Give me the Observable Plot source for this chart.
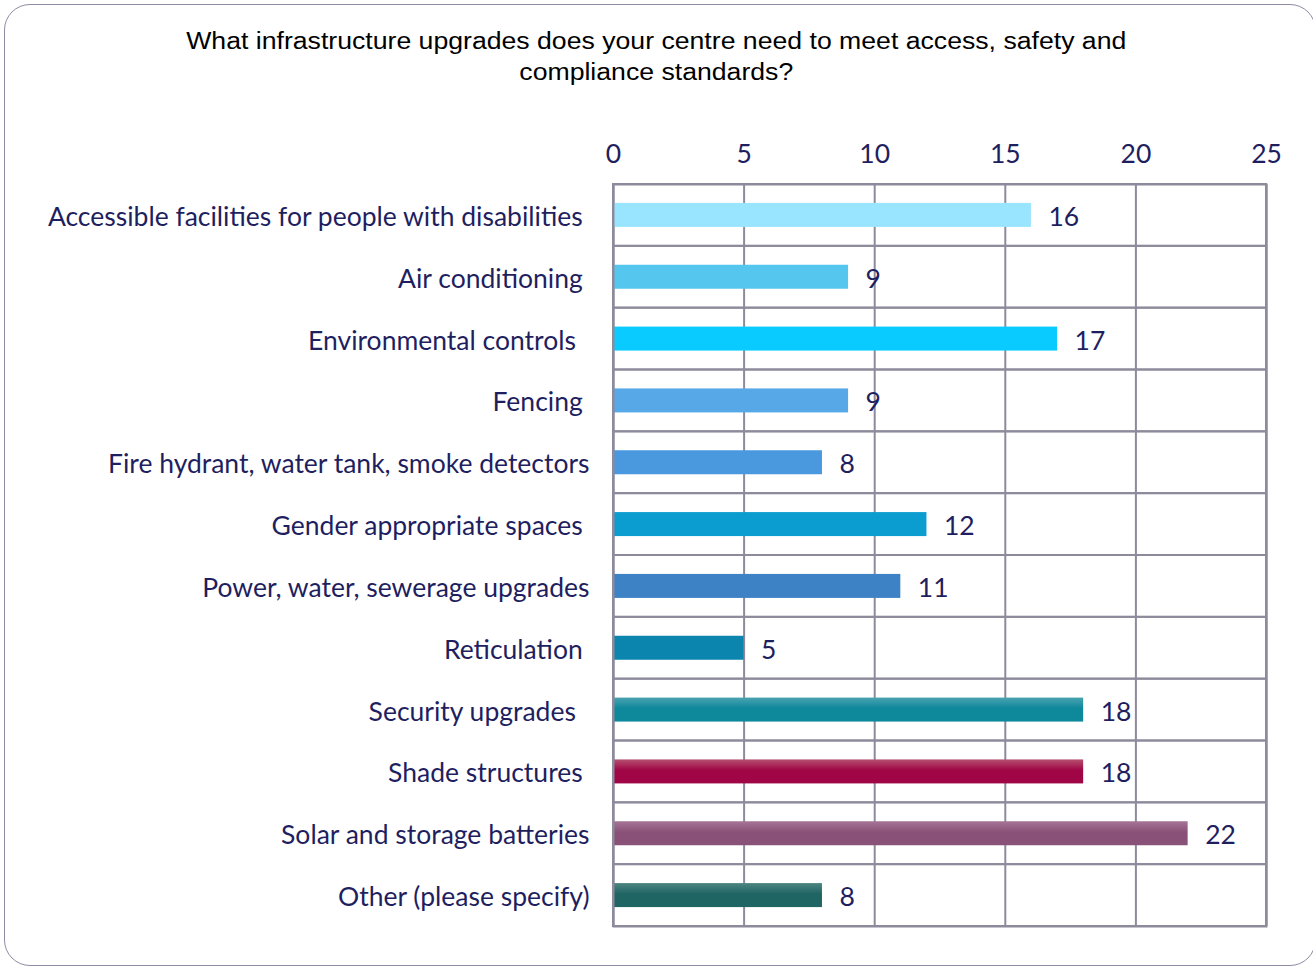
<!DOCTYPE html>
<html>
<head>
<meta charset="utf-8">
<script src="https://cdn.jsdelivr.net/npm/d3@7"></script>
<script src="https://cdn.jsdelivr.net/npm/@observablehq/plot@0.6"></script>
<style>
  html, body { margin: 0; padding: 0; background: #fff; }
  #page { position: relative; width: 1313px; height: 967px; overflow: hidden; }
  #border { position: absolute; left: 4px; top: 4px; width: 1312px; height: 962px; border: 1.6px solid #8e8ba4; border-radius: 26px; box-sizing: border-box; }
  #title { position: absolute; left: 0; top: 26px; width: 1313px; text-align: center; font-family: "Liberation Sans", Arial, sans-serif; font-size: 23px; line-height: 31px; color: #000; transform: scaleX(1.158); transform-origin: 658px 0; }
  #chart { position: absolute; left: 0; top: 100px; }
</style>
</head>
<body>
<div id="page">
  <div id="border"></div>
  <div id="title">What infrastructure upgrades does your centre need to meet access, safety and<br>compliance standards?</div>
  <div id="chart"></div>
</div>
<svg width="0" height="0" style="position:absolute">
  <defs id="grads"></defs>
</svg>
<script>
const categories = [
  "Accessible facilities for people with disabilities\u00a0",
  "Air conditioning\u00a0",
  "Environmental controls\u00a0\u00a0",
  "Fencing\u00a0",
  "Fire hydrant, water tank, smoke detectors",
  "Gender appropriate spaces\u00a0",
  "Power, water, sewerage upgrades",
  "Reticulation\u00a0",
  "Security upgrades\u00a0\u00a0",
  "Shade structures\u00a0",
  "Solar and storage batteries",
  "Other (please specify)"
];
const values = [16, 9, 17, 9, 8, 12, 11, 5, 18, 18, 22, 8];
const barColors = [
  ["#99e5ff", "#99e5ff"],
  ["#55c6ee", "#55c6ee"],
  ["#0acbff", "#0acbff"],
  ["#56a8e6", "#56a8e6"],
  ["#4a98de", "#4a98de"],
  ["#0b9dd0", "#0b9dd0"],
  ["#3c82c4", "#3c82c4"],
  ["#0c85ae", "#0c85ae"],
  ["#4aa3b0", "#0e889b"],
  ["#b4506f", "#a00545"],
  ["#a57596", "#8a5178"],
  ["#4e8683", "#1f6563"]
];
const xTicks = [0, 5, 10, 15, 20, 25];

// gradient defs
const defs = d3.select("#grads");
barColors.forEach(([top, bottom], i) => {
  const g = defs.append("linearGradient").attr("id", "bar" + i)
    .attr("x1", 0).attr("y1", 0).attr("x2", 0).attr("y2", 1);
  g.append("stop").attr("offset", "0%").attr("stop-color", top);
  g.append("stop").attr("offset", "45%").attr("stop-color", bottom);
  g.append("stop").attr("offset", "100%").attr("stop-color", bottom);
});

const data = categories.map((c, i) => ({category: c, value: values[i], fill: `url(#bar${i})`}));

const navy = "#1f1f5f";
const gridColor = "#8d8a9c";
const W = 1313, H = 867, mT = 84, mB = 41;
const step = (H - mT - mB) / categories.length;
const barInset = (step - 24) / 2;

const chart = Plot.plot({
  width: W,
  height: H,
  marginLeft: 613,
  marginRight: 47,
  marginTop: mT,
  marginBottom: mB,
  style: {fontFamily: "Lato, sans-serif", fontSize: "26.5px", color: navy, background: "transparent"},
  x: {domain: [0, 25], ticks: xTicks, label: null},
  y: {domain: categories, padding: 0, round: false, label: null},
  color: {type: "identity"},
  marks: [
    Plot.axisX(xTicks, {anchor: "top", tickSize: 0, tickPadding: 22, fill: navy}),
    Plot.axisY({tickSize: 0, tickPadding: 24, dy: 2, fill: navy}),
    Plot.barX(data, {y: "category", x1: 0, x2: 25, fill: "none", stroke: gridColor, strokeWidth: 2}),
    Plot.ruleX(xTicks, {stroke: gridColor, strokeWidth: 2}),
    Plot.barX(data, {y: "category", x: "value", fill: "fill", insetTop: barInset, insetBottom: barInset}),
    Plot.text(data, {y: "category", x: "value", text: d => String(d.value), textAnchor: "start", dx: 17, dy: 2, fill: navy, fontSize: 26.5}),
    Plot.frame({stroke: gridColor, strokeWidth: 2})
  ]
});
document.getElementById("chart").appendChild(chart);
</script>
</body>
</html>
